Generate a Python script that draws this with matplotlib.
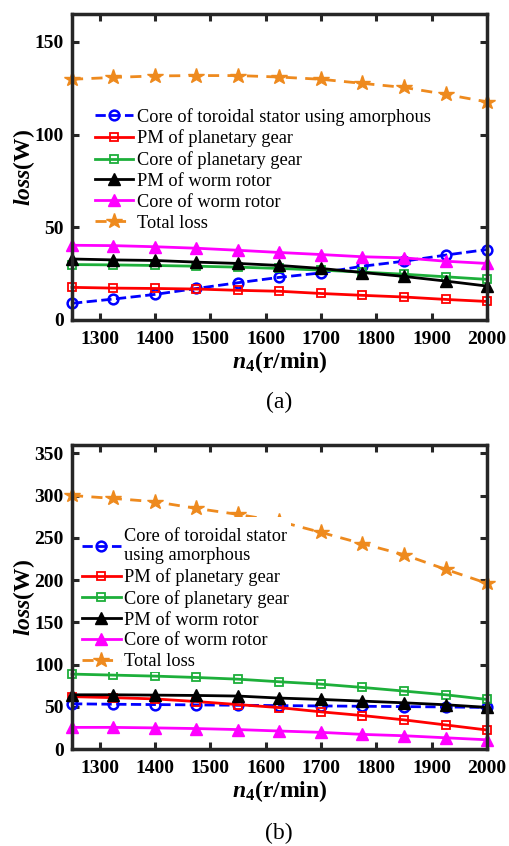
import matplotlib
matplotlib.use('Agg')
import matplotlib.pyplot as plt
import numpy as np

plt.rcParams['font.family'] = ['Liberation Serif', 'DejaVu Serif']
plt.rcParams['mathtext.fontset'] = 'custom'
plt.rcParams['mathtext.rm'] = 'Liberation Serif'
plt.rcParams['mathtext.it'] = 'Liberation Serif:italic'
plt.rcParams['mathtext.bf'] = 'Liberation Serif:bold'
plt.rcParams['mathtext.bfit'] = 'Liberation Serif:italic:bold'

# speed n4 (r/min)
speed = [1250, 1325, 1400, 1475, 1550, 1625, 1700, 1775, 1850, 1925, 2000]

# (a) losses, W
a_stator = [9.0, 11.3, 13.8, 17.0, 20.1, 23.0, 25.4, 29.0, 31.7, 35.0, 38.0]
a_pm_planet = [17.6, 17.2, 17.0, 16.7, 16.0, 15.5, 14.3, 13.3, 12.4, 11.1, 10.0]
a_core_planet = [29.9, 29.7, 29.4, 29.0, 28.5, 27.8, 26.9, 25.8, 24.7, 23.3, 21.9]
a_pm_worm = [32.9, 32.4, 32.1, 31.2, 30.5, 29.4, 27.8, 25.6, 23.5, 21.0, 18.3]
a_core_worm = [40.3, 40.1, 39.5, 38.7, 37.6, 36.4, 35.3, 34.1, 33.5, 31.7, 30.5]
a_total = [129.8, 130.8, 131.6, 131.8, 131.8, 131.0, 129.8, 127.6, 125.4, 121.7, 117.6]

# (b) losses, W
b_stator = [53.5, 53.0, 52.6, 52.2, 51.8, 51.4, 51.0, 50.6, 50.2, 49.8, 49.2]
b_pm_planet = [62.0, 60.8, 59.3, 56.2, 52.6, 49.0, 44.0, 39.6, 34.5, 28.5, 22.5]
b_core_planet = [88.7, 87.5, 86.3, 84.7, 82.7, 79.6, 76.8, 72.9, 68.6, 64.2, 58.7]
b_pm_worm = [64.2, 64.2, 63.8, 63.4, 62.7, 60.3, 58.7, 56.7, 54.7, 52.4, 49.3]
b_core_worm = [25.6, 25.6, 25.0, 24.2, 23.0, 21.3, 19.7, 17.3, 15.7, 13.3, 10.9]
b_total = [300.2, 296.7, 292.8, 284.9, 277.8, 269.5, 256.5, 243.1, 230.1, 212.8, 196.2]

labels_a = ['Core of toroidal stator using amorphous', 'PM of planetary gear',
            'Core of planetary gear', 'PM of worm rotor', 'Core of worm rotor', 'Total loss']
labels_b = ['Core of toroidal stator\nusing amorphous', 'PM of planetary gear',
            'Core of planetary gear', 'PM of worm rotor', 'Core of worm rotor', 'Total loss']

c_blue = '#0000FF'
c_red = '#FF0000'
c_green = '#1DAF3A'
c_black = '#000000'
c_mag = '#FF00FF'
c_orange = '#EE8A1E'

fig = plt.figure(figsize=(5.09, 8.46), dpi=100)
ax1 = fig.add_axes([72/509, 1-320/846, 415/509, 306/846])
ax2 = fig.add_axes([72/509, 1-749/846, 415/509, 304/846])


def draw(ax, series, labels, ylim, yticks, leg_anchor, title=None):
    st, pmp, cp, pmw, cw, tot = series
    kw = dict(lw=2, clip_on=False)
    ax.plot(speed, st, '--o', color=c_blue, ms=7, mfc='none', mew=1.8, label=labels[0], **kw)
    ax.plot(speed, pmp, '-s', color=c_red, ms=5.5, mfc='none', mew=1.3, label=labels[1], **kw)
    ax.plot(speed, cp, '-s', color=c_green, ms=5.5, mfc='none', mew=1.3, label=labels[2], **kw)
    ax.plot(speed, pmw, '-^', color=c_black, ms=8, label=labels[3], **kw)
    ax.plot(speed, cw, '-^', color=c_mag, ms=9, label=labels[4], **kw)
    ax.plot(speed, tot, '--*', color=c_orange, ms=11.5, dashes=(4, 3), label=labels[5], **kw)
    ax.set_xlim(1250, 2000)
    ax.set_ylim(*ylim)
    ax.set_xticks(range(1300, 2001, 100))
    ax.set_yticks(yticks)
    ax.tick_params(direction='in', top=True, right=True, length=5, width=2.2,
                   labelsize=14, color='#262626')
    ax.tick_params(axis='x', pad=8)
    ax.tick_params(axis='y', pad=6)
    for lab in ax.get_xticklabels() + ax.get_yticklabels():
        lab.set_fontweight('bold')
    for sp in ax.spines.values():
        sp.set_linewidth(2.5)
        sp.set_color('#262626')
    ax.set_xlabel(r'$\mathbfit{n}_{\mathbf{4}}\mathbf{(r/min)}$', fontsize=17, labelpad=1)
    ax.set_ylabel(r'$\mathbfit{loss}\mathbf{(W)}$', fontsize=17, labelpad=-2)
    leg = ax.legend(loc='upper left', bbox_to_anchor=leg_anchor, fontsize=13.2,
                    frameon=True, framealpha=1, edgecolor='none', fancybox=False,
                    borderpad=0.1, borderaxespad=0, handlelength=2.1,
                    handletextpad=0.2, labelspacing=0.21,
                    title=title, title_fontsize=4)
    return leg


draw(ax1, [a_stator, a_pm_planet, a_core_planet, a_pm_worm, a_core_worm, a_total],
     labels_a, (0, 165), [0, 50, 100, 150], (0.051, 0.70))
draw(ax2, [b_stator, b_pm_planet, b_core_planet, b_pm_worm, b_core_worm, b_total],
     labels_b, (0, 360), list(range(0, 351, 50)), (0.0198, 0.763), title=' ')

fig.text(279/509, 1-402/846, '(a)', ha='center', va='center', fontsize=17)
fig.text(279/509, 1-833/846, '(b)', ha='center', va='center', fontsize=17)

fig.savefig('out.png', dpi=100)
